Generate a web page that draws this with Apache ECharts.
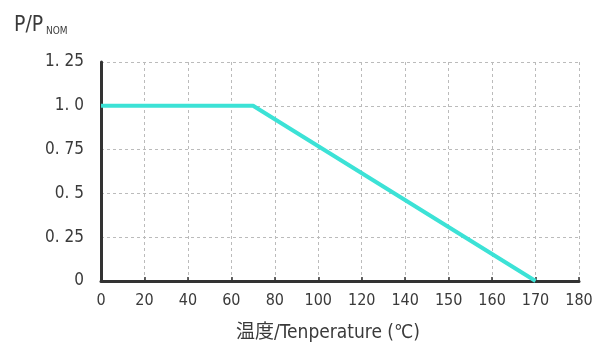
<!DOCTYPE html>
<html><head><meta charset="utf-8">
<script src="https://cdn.jsdelivr.net/npm/echarts@6/dist/echarts.min.js"></script>
<style>html,body{margin:0;padding:0;background:#fff}#c{width:596px;height:342px}</style>
</head><body><div id="c"></div>
<script>
const tickLabels = [0, 20, 40, 60, 80, 100, 120, 140, 150, 160, 170, 180];
const yTicks = ['0', '0. 25', '0. 5', '0. 75', '1. 0', '1. 25'];
const temperature = [0, 70, 170];
const power = [1.0, 1.0, 0.0];

// map a temperature onto the (equally spaced) tick-label axis, piecewise linear
function toAxis(t) {
  for (let i = 0; i < tickLabels.length - 1; i++) {
    const a = tickLabels[i], b = tickLabels[i + 1];
    if (t >= a && t <= b) return i + (t - a) / (b - a);
  }
  return tickLabels.length - 1;
}

const font = '"DejaVu Sans Condensed", "Noto Sans CJK JP", sans-serif';
const txt = '#3a3a3a';
const chart = echarts.init(document.getElementById('c'), null, {renderer: 'canvas'});
chart.setOption({
  animation: false,
  backgroundColor: '#fff',
  title: {
    text: '{a|P/P}{b| NOM}',
    left: 9, top: 10,
    textStyle: {
      rich: {
        a: {fontSize: 21, fontWeight: 'normal', color: txt, fontFamily: font},
        b: {fontSize: 10, fontWeight: 'normal', color: txt, fontFamily: font, verticalAlign: 'bottom', padding: [8, 0, 0, 0]}
      }
    }
  },
  grid: {left: 101, right: 17, top: 62, bottom: 61, containLabel: false, outerBoundsMode: 'none'},
  xAxis: {
    type: 'value', min: 0, max: tickLabels.length - 1, interval: 1,
    name: '温度/Tenperature (℃)', nameLocation: 'middle', nameGap: 43,
    nameTextStyle: {fontSize: 19, color: txt, fontFamily: font, padding: [0, 24, 0, 0]},
    axisLine: {show: true, lineStyle: {color: '#333', width: 3}},
    axisTick: {show: true, inside: true, length: 4, lineStyle: {color: '#333', width: 1.5}},
    axisLabel: {fontSize: 16, color: txt, fontFamily: font, margin: 12,
      formatter: v => String(tickLabels[Math.round(v)])},
    splitLine: {show: true, lineStyle: {color: '#bbb', type: [3, 3], width: 1}}
  },
  yAxis: {
    type: 'value', min: 0, max: 1.25, interval: 0.25,
    axisLine: {show: true, lineStyle: {color: '#333', width: 3}},
    axisTick: {show: false},
    axisLabel: {fontSize: 17, color: txt, fontFamily: font, margin: 17,
      formatter: v => yTicks[Math.round(v / 0.25)]},
    splitLine: {show: true, lineStyle: {color: '#bbb', type: [3, 3], width: 1}}
  },
  series: [{
    type: 'line',
    data: temperature.map((t, i) => [toAxis(t), power[i]]),
    symbol: 'none',
    lineStyle: {color: '#3ce2d6', width: 4},
    z: 5
  }]
});
</script></body></html>
